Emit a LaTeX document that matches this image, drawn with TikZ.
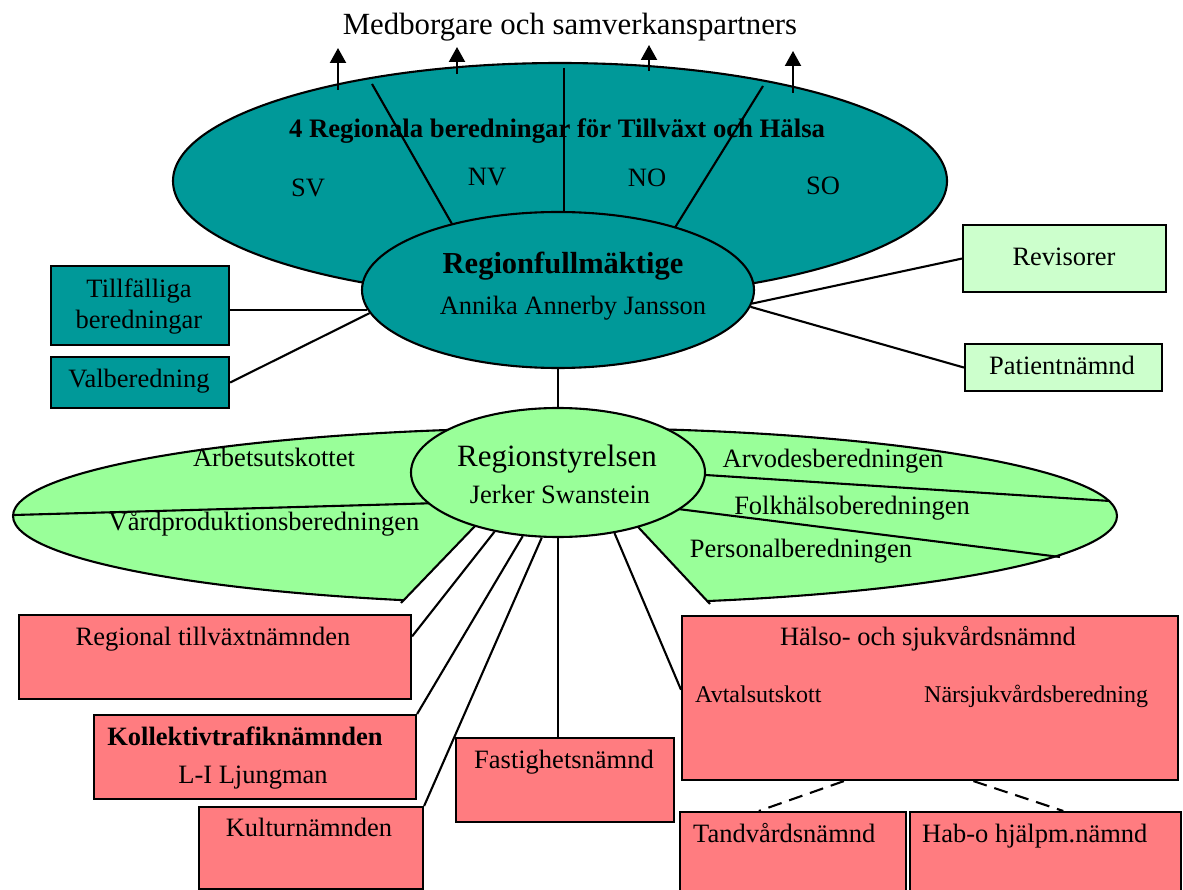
\documentclass[tikz,border=0pt]{standalone}
\usepackage{fontspec}
\setmainfont{Liberation Serif}
\usetikzlibrary{shapes.geometric,arrows.meta,calc}
\definecolor{tealc}{HTML}{009999}
\definecolor{lgreen}{HTML}{99FF99}
\definecolor{pgreen}{HTML}{CCFFCC}
\definecolor{coral}{HTML}{FF7C80}
\begin{document}
\begin{tikzpicture}[x=1pt,y=-1pt,
  ell/.style={ellipse, draw, line width=2.1pt, inner sep=0pt},
  box/.style={rectangle, draw, line width=2.1pt, inner sep=0pt, anchor=north west},
  conn/.style={line width=2.1pt},
  upar/.style={line width=2.1pt, -{Triangle[width=16pt,length=15pt]}},
  dashconn/.style={line width=2.1pt, dash pattern=on 14pt off 8pt},
  lbl/.style={font=\fontsize{26.5}{30}\selectfont, inner sep=0pt, anchor=base},
  lbll/.style={font=\fontsize{26.5}{30}\selectfont, inner sep=0pt, anchor=base west},
  smll/.style={font=\fontsize{24}{28}\selectfont, inner sep=0pt, anchor=base west},
]
\useasboundingbox (0,0) rectangle (1183,890);

% ---- top: regional preparatory bodies ----
\node[ell, fill=tealc, minimum width=774pt, minimum height=236pt] (big) at (560,181) {};
\draw[conn] (372,84) -- (456,231);
\draw[conn] (564,68) -- (564,222);
\draw[conn] (763,86) -- (671,234);
\coordinate (a1s) at (338,90);  \coordinate (a1e) at (338,48);
\coordinate (a2s) at (457,74);  \coordinate (a2e) at (457,47);
\coordinate (a3s) at (649,71);  \coordinate (a3e) at (649,45);
\coordinate (a4s) at (793,93);  \coordinate (a4e) at (793,51);
\draw[upar] (a1s) -- (a1e);
\draw[upar] (a2s) -- (a2e);
\draw[upar] (a3s) -- (a3e);
\draw[upar] (a4s) -- (a4e);

\node[ell, fill=tealc, minimum width=392pt, minimum height=156pt] (rf) at (558,290) {};

% ---- Regionstyrelsen with its committees ----
\node[ell, fill=lgreen, minimum width=1104pt, minimum height=176pt] (rso) at (565,516) {};
\fill[white] (401,603) -- (501,499) -- (611,498) -- (710,604) -- (712,612) -- (399,612) -- cycle;
\draw[conn] (401,603) -- (501,499);
\draw[conn] (710,604) -- (611,498);
\draw[conn] (14,515) -- (440,503);
\draw[conn] (690,474) -- (1110,501);
\draw[conn] (670,508) -- (1060,557);
\node[ell, fill=lgreen, minimum width=294pt, minimum height=129pt] (rs) at (558,472.5) {};

% ---- boxes ----
\node[box, fill=tealc, minimum width=178pt, minimum height=79pt] (tf) at (50,265) {};
\node[box, fill=tealc, minimum width=178pt, minimum height=51pt] (vb) at (50,356) {};
\node[box, fill=pgreen, minimum width=203pt, minimum height=67pt] (rev) at (962,224) {};
\node[box, fill=pgreen, minimum width=197pt, minimum height=47pt] (pat) at (964,343) {};
\node[box, fill=coral, minimum width=392pt, minimum height=84pt] (rt) at (18,614) {};
\node[box, fill=coral, minimum width=322pt, minimum height=84pt] (kt) at (93,714) {};
\node[box, fill=coral, minimum width=224pt, minimum height=82pt] (ku) at (198,806) {};
\node[box, fill=coral, minimum width=218pt, minimum height=84pt] (fa) at (455,737) {};
\node[box, fill=coral, minimum width=496pt, minimum height=164pt] (hs) at (681,615) {};
\node[box, fill=coral, minimum width=226pt, minimum height=90pt] (td) at (679,811) {};
\node[box, fill=coral, minimum width=271pt, minimum height=90pt] (hab) at (909,811) {};

% ---- connectors ----
\draw[conn] (rf.186) -- (rf.186 -| tf.east);
\draw[conn] (rf.187) -- (vb.east);
\draw[conn] (rf.-4.4) -- (rev.west);
\draw[conn] (rf.-5) -- (pat.west);
\draw[conn] (rf.south) -- (rs.north);
\draw[conn] (rs.223.8) -- ($(rt.north east)!0.26!(rt.south east)$);
\draw[conn] (rs.241.5) -- (kt.north east);
\draw[conn] (rs.256.3) -- (ku.north east);
\draw[conn] (rs.south) -- (rs.south |- fa.north);
\draw[conn] (rs.-47.7) -- ($(hs.north west)!0.45!(hs.south west)$);
\draw[dashconn] ($(hs.south west)!0.327!(hs.south east)$) -- ($(td.north west)!0.35!(td.north east)$);
\draw[dashconn] ($(hs.south west)!0.587!(hs.south east)$) -- ($(hab.north west)!0.565!(hab.north east)$);

% ---- labels ----
\node[lbl, font=\fontsize{30.8}{35}\selectfont] (tmed) at (570,35) {Medborgare och samverkanspartners};
\node[lbl, font=\bfseries\fontsize{26.7}{30}\selectfont] (t4r) at (557,138) {4 Regionala beredningar för Tillväxt och Hälsa};
\node[lbl] (tsv) at (308,197) {SV};
\node[lbl] (tnv) at (487,186) {NV};
\node[lbl] (tno) at (647,187) {NO};
\node[lbl] (tso) at (823,195) {SO};
\node[lbl, font=\bfseries\fontsize{30.5}{34}\selectfont] (trf) at (563,274) {Regionfullmäktige};
\node[lbl] (tann) at (573,315) {Annika Annerby Jansson};
\node[font=\fontsize{26.5}{31}\selectfont, inner sep=0pt, align=center] (ttf) at (139,307) {Tillfälliga\\beredningar};
\node[lbl] (tvb) at (139,388) {Valberedning};
\node[lbl] (trev) at (1064,266) {Revisorer};
\node[lbl] (tpat) at (1062,374) {Patientnämnd};
\node[lbl, font=\fontsize{31}{35}\selectfont] (trs) at (557,466) {Regionstyrelsen};
\node[lbl] (tjs) at (560,503) {Jerker Swanstein};
\node[lbl] (tau) at (274,466) {Arbetsutskottet};
\node[lbl] (tvp) at (264,530) {Vårdproduktionsberedningen};
\node[lbl] (tarv) at (833,467) {Arvodesberedningen};
\node[lbl] (tfh) at (852,514) {Folkhälsoberedningen};
\node[lbl] (tpb) at (801,557) {Personalberedningen};
\node[lbl] (trt) at (213,645) {Regional tillväxtnämnden};
\node[lbl, font=\bfseries\fontsize{26.5}{30}\selectfont] (tkt) at (245,745) {Kollektivtrafiknämnden};
\node[lbl] (tlj) at (253,783) {L-I Ljungman};
\node[lbl] (tku) at (309,836) {Kulturnämnden};
\node[lbl] (tfa) at (564,768) {Fastighetsnämnd};
\node[lbl] (ths) at (928,645) {Hälso- och sjukvårdsnämnd};
\node[smll] (tav) at (695,702) {Avtalsutskott};
\node[smll] (tns) at (924,702) {Närsjukvårdsberedning};
\node[lbll] (ttd) at (693,842) {Tandvårdsnämnd};
\node[lbll] (thab) at (922,842) {Hab-o hjälpm.nämnd};
\end{tikzpicture}
\end{document}
